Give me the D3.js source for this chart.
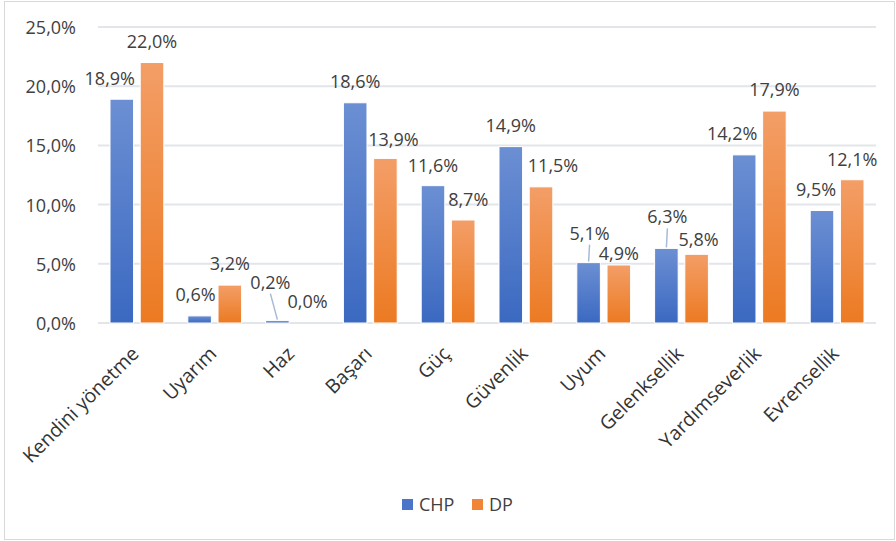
<!DOCTYPE html>
<html>
<head>
<meta charset="utf-8">
<script src="https://cdn.jsdelivr.net/npm/d3@7"></script>
<style>
  body { margin: 0; background: #fff; }
  svg { display: block; font-family: 'Open Sans', sans-serif; }
</style>
</head>
<body>
<svg id="chart" width="896" height="541"></svg>
<script>
// values
const categories = ['Kendini yönetme', 'Uyarım', 'Haz', 'Başarı', 'Güç', 'Güvenlik', 'Uyum', 'Gelenksellik', 'Yardımseverlik', 'Evrensellik'];
const seriesNames = ['CHP', 'DP'];
const chpValues = [18.9, 0.6, 0.2, 18.6, 11.6, 14.9, 5.1, 6.3, 14.2, 9.5];
const dpValues = [22.0, 3.2, 0.0, 13.9, 8.7, 11.5, 4.9, 5.8, 17.9, 12.1];
const yTicks = [0, 5, 10, 15, 20, 25];

// label nudges (manual placement in the original), [dx, dy]
const chpNudge = [[-12, 1], [-4, 0], [-7, -17], [0, 0], [0, 1], [0, 0], [1, -8], [1, -10], [-12, 0], [-6, 0]];
const dpNudge = [[0, 0], [0, 0], [0, 0], [8, 3], [5, 1], [12, 0], [0, 10], [2, 7], [0, 0], [0, 1]];
const chpLeader = [false, false, true, false, false, false, true, true, false, false];

const svg = d3.select('#chart');
const W = 896, H = 541;
const x0 = 98, x1 = 876, yTop = 27, yBot = 323;
const textColor = '#404040';
const fmt = v => d3.format('.1f')(v).replace('.', ',') + '%';

// chart border
svg.append('rect')
    .attr('x', 4.5).attr('y', 1.5)
    .attr('width', W - 6).attr('height', H - 3)
    .attr('fill', '#fff')
    .attr('stroke', '#d9d9d9')
    .attr('stroke-width', 1);

// gradients, like the excel bar fills
const defs = svg.append('defs');
const addGrad = (id, top, bottom) => {
    const g = defs.append('linearGradient')
        .attr('id', id)
        .attr('x1', 0).attr('y1', 0).attr('x2', 0).attr('y2', 1);
    g.append('stop').attr('offset', '0%').attr('stop-color', top);
    g.append('stop').attr('offset', '100%').attr('stop-color', bottom);
};
addGrad('gChp', '#6c8fd3', '#3b69c1');
addGrad('gDp', '#f39e67', '#ec7a22');
const fills = ['url(#gChp)', 'url(#gDp)'];
const legendFills = ['#4a75c8', '#ef8535'];

const x = d3.scaleBand()
    .domain(categories)
    .range([x0, x1])
    .paddingInner(0)
    .paddingOuter(0);

const xs = d3.scaleBand()
    .domain(seriesNames)
    .range([12, x.bandwidth() - 12])
    .paddingInner(0.22);

const y = d3.scaleLinear()
    .domain([0, 25])
    .range([yBot, yTop]);

// gridlines
svg.append('g')
    .selectAll('line')
    .data(yTicks)
    .join('line')
    .attr('x1', x0).attr('x2', x1)
    .attr('y1', d => y(d)).attr('y2', d => y(d))
    .attr('stroke', '#e2e5ea')
    .attr('stroke-width', 2);

// y axis labels
svg.append('g')
    .selectAll('text')
    .data(yTicks)
    .join('text')
    .attr('x', 76)
    .attr('y', d => y(d) + 7)
    .attr('text-anchor', 'end')
    .attr('font-size', 18)
    .attr('fill', textColor)
    .text(d => fmt(d));

const rows = categories.map((c, i) => ({cat: c, i: i, vals: [chpValues[i], dpValues[i]]}));

// bars
const groups = svg.append('g')
    .selectAll('g')
    .data(rows)
    .join('g')
    .attr('transform', d => `translate(${x(d.cat)},0)`);

groups.selectAll('rect')
    .data(d => d.vals.map((v, k) => ({v: v, k: k})))
    .join('rect')
    .attr('x', d => xs(seriesNames[d.k]))
    .attr('y', d => y(d.v))
    .attr('width', xs.bandwidth())
    .attr('height', d => yBot - y(d.v))
    .attr('fill', d => fills[d.k])
    .attr('stroke', '#fff')
    .attr('stroke-width', d => d.v > 0 ? 1 : 0);

// leader lines
groups.filter(d => chpLeader[d.i])
    .append('line')
    .attr('x1', d => xs('CHP') + xs.bandwidth() / 2 + chpNudge[d.i][0])
    .attr('y1', d => y(d.vals[0]) - 15 + chpNudge[d.i][1] + 5)
    .attr('x2', d => xs('CHP') + xs.bandwidth() / 2)
    .attr('y2', d => y(d.vals[0]) - 1)
    .attr('stroke', '#a9bad6')
    .attr('stroke-width', 1.5);

// data labels
const nudges = [chpNudge, dpNudge];
groups.selectAll('text.val')
    .data(d => d.vals.map((v, k) => ({v: v, k: k, i: d.i})))
    .join('text')
    .attr('class', 'val')
    .attr('x', d => xs(seriesNames[d.k]) + xs.bandwidth() / 2 + nudges[d.k][d.i][0])
    .attr('y', d => y(d.v) - 15 + nudges[d.k][d.i][1])
    .attr('text-anchor', 'middle')
    .attr('font-size', 18)
    .attr('fill', textColor)
    .text(d => fmt(d.v));

// category labels
svg.append('g')
    .selectAll('text')
    .data(categories)
    .join('text')
    .attr('transform', d => `translate(${x(d) + x.bandwidth() / 2 + 3},${yBot + 32}) rotate(-45)`)
    .attr('text-anchor', 'end')
    .attr('font-size', 19.5)
    .attr('fill', '#333')
    .text(d => d);

// legend
const legend = svg.append('g')
    .attr('transform', 'translate(402,499)');
const legendX = [0, 70];
seriesNames.forEach((s, k) => {
    legend.append('rect')
        .attr('x', legendX[k]).attr('y', 0)
        .attr('width', 11).attr('height', 11)
        .attr('fill', legendFills[k]);
    legend.append('text')
        .attr('x', legendX[k] + 17)
        .attr('y', 12)
        .attr('font-size', 18)
        .attr('fill', textColor)
        .text(s);
});
</script>
</body>
</html>
